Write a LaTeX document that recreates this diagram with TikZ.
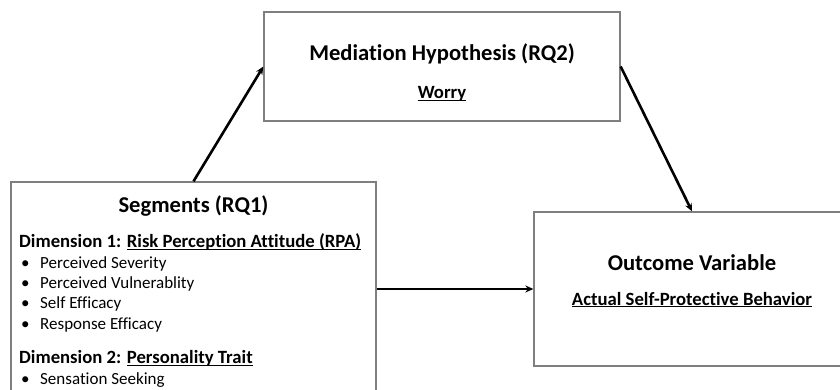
\documentclass[tikz,border=0pt]{standalone}
\usepackage{fontspec}
\setmainfont{Carlito}[Ligatures=NoCommon]
\usetikzlibrary{arrows.meta}
\definecolor{boxgray}{HTML}{7F7F7F}
\newcommand\myul[1]{\setbox0\hbox{#1}\rlap{\rule[-0.13em]{\wd0}{0.065em}}\box0}
\begin{document}
\begin{tikzpicture}[x=1pt,y=-1pt,
  boxnode/.style={draw=boxgray,line width=1.3pt,fill=white,rectangle,inner sep=0pt},
  ttl/.style={font=\fontsize{22.6}{26}\selectfont\bfseries,anchor=base,inner sep=0pt},
  sub/.style={font=\fontsize{18.7}{22}\selectfont\bfseries,inner sep=0pt},
  itm/.style={font=\fontsize{17}{20}\selectfont,anchor=base west,inner sep=0pt},
  arr/.style={line width=2.6pt,-{Stealth[length=8pt,width=7pt]}}]
\useasboundingbox (0,0) rectangle (840,390);
\clip (0,0) rectangle (840,390);
\fill[white] (0,0) rectangle (840,390);
% boxes
\node[boxnode, minimum width=365pt, minimum height=220pt] (seg) at (193.5,292) {};
\node[boxnode, minimum width=356pt, minimum height=109pt] (med) at (442,66.5) {};
\node[boxnode, minimum width=316pt, minimum height=154pt] (out) at (692,289) {};
% left box text
\node[ttl] (segT) at (193.5,212.7) {Segments (RQ1)};
\node[sub,anchor=base west] (d1) at (19,247.7) {Dimension 1: \myul{Risk Perception Attitude (RPA)}};
\node[itm] (i1) at (21,268.3) {\makebox[19pt][l]{•}Perceived Severity};
\node[itm] (i2) at (21,288.6) {\makebox[19pt][l]{•}Perceived Vulnerablity};
\node[itm] (i3) at (21,308.9) {\makebox[19pt][l]{•}Self Efficacy};
\node[itm] (i4) at (21,329.2) {\makebox[19pt][l]{•}Response Efficacy};
\node[sub,anchor=base west] (d2) at (19,363.3) {Dimension 2: \myul{Personality Trait}};
\node[itm] (i5) at (21,384.3) {\makebox[19pt][l]{•}Sensation Seeking};
% top box text
\node[ttl] (medT) at (442,61) {Mediation Hypothesis (RQ2)};
\node[sub,anchor=base] (medS) at (442,99) {\myul{Worry}};
% right box text
\node[ttl] (outT) at (692,270) {Outcome Variable};
\node[sub,anchor=base] (outS) at (692,305) {\myul{Actual Self-Protective Behavior}};
% arrows
\draw[arr] (seg.north) -- (med.west);
\draw[arr] (med.east) -- (out.north);
\draw[arr] (seg.east |- out.west) -- (out.west);
\end{tikzpicture}
\end{document}
